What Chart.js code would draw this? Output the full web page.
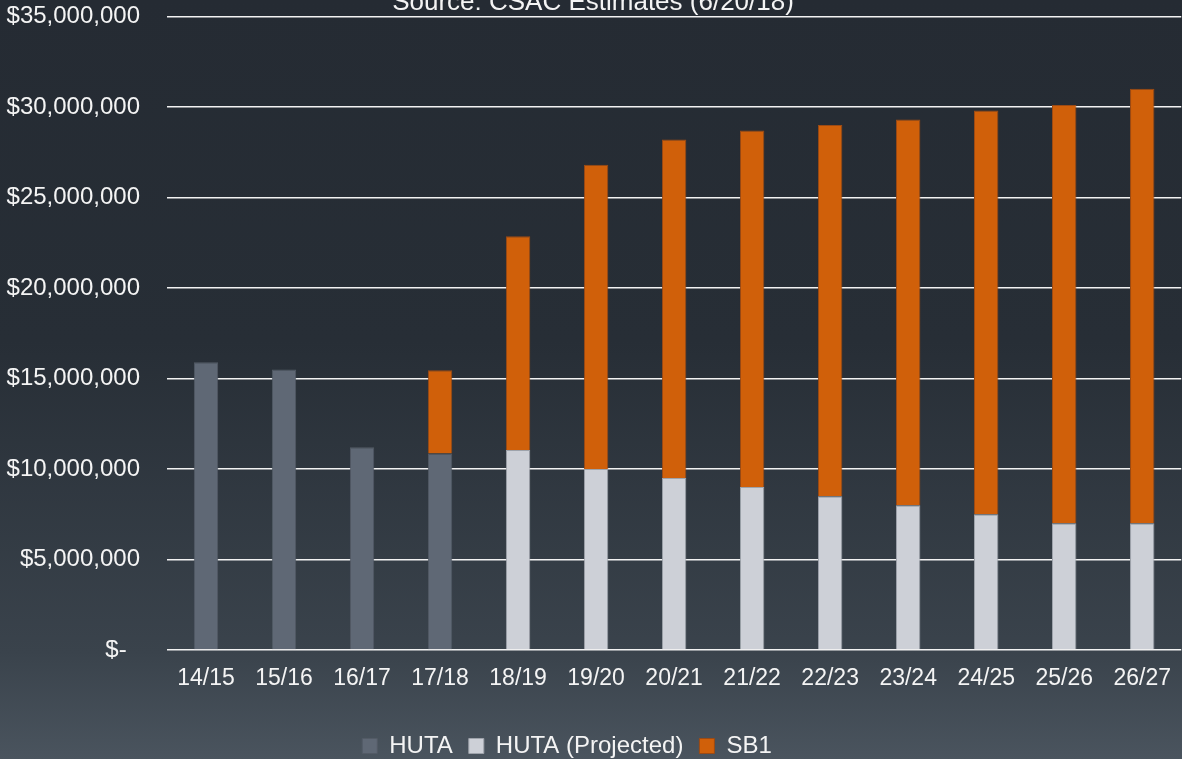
<!DOCTYPE html>
<html>
<head>
<meta charset="utf-8">
<script src="https://cdn.jsdelivr.net/npm/chart.js@4/dist/chart.umd.min.js"></script>
<style>
  html, body { margin: 0; padding: 0; width: 1182px; height: 759px; overflow: hidden; }
  body { background: linear-gradient(to bottom, #252b33 0%, #272e36 45%, #3a434c 86%, #4a545e 100%); position: relative; }
  #wrap { position: absolute; left: 0; top: -25px; width: 1186px; height: 793px; }
</style>
</head>
<body>
<div id="wrap"><canvas id="c"></canvas></div>
<script>
const categories = ['14/15','15/16','16/17','17/18','18/19','19/20','20/21','21/22','22/23','23/24','24/25','25/26','26/27'];
const hutaValues = [15900000, 15500000, 11200000, 10850000, null, null, null, null, null, null, null, null, null];
const hutaProjectedValues = [null, null, null, null, 11050000, 10000000, 9500000, 9000000, 8500000, 8000000, 7500000, 7000000, 7000000];
const sb1Values = [null, null, null, 4600000, 11800000, 16800000, 18700000, 19700000, 20500000, 21300000, 22300000, 23100000, 24000000];
const yTickValues = [0, 5000000, 10000000, 15000000, 20000000, 25000000, 30000000, 35000000];
const seriesNames = ['HUTA', 'HUTA (Projected)', 'SB1'];
const titleText = 'Source: CSAC Estimates (6/20/18)';

const FONT = "'Liberation Sans', Arial, sans-serif";
const TXT = '#f4f4f4';

function fmt(v) {
  if (v === 0) return '$-  ';
  return '$' + v.toLocaleString('en-US');
}

const legendShift = {
  id: 'legendShift',
  afterLayout(chart) {
    const lg = chart.legend;
    if (lg) { lg.left -= 26; lg.right -= 26; }
  }
};

new Chart(document.getElementById('c'), {
  type: 'bar',
  data: {
    labels: categories,
    datasets: [
      { label: seriesNames[0], data: hutaValues, backgroundColor: '#5f6875', borderColor: '#535b66', borderWidth: 1 },
      { label: seriesNames[1], data: hutaProjectedValues, backgroundColor: '#cdd0d7', borderColor: '#9ea3ab', borderWidth: 1 },
      { label: seriesNames[2], data: sb1Values, backgroundColor: '#d0600a', borderColor: '#9c4a14', borderWidth: 1 }
    ]
  },
  plugins: [legendShift],
  options: {
    responsive: true,
    maintainAspectRatio: false,
    animation: false,
    devicePixelRatio: 1,
    layout: { padding: { left: 0, right: 0, top: 0, bottom: 0 } },
    datasets: { bar: { categoryPercentage: 1.0, barPercentage: 0.313 } },
    plugins: {
      title: {
        display: true,
        text: titleText,
        color: TXT,
        font: { family: FONT, size: 26, weight: 'normal' },
        padding: { top: 0, bottom: -2 }
      },
      legend: {
        display: true,
        position: 'bottom',
        labels: {
          color: TXT,
          font: { family: FONT, size: 24 },
          boxWidth: 15,
          boxHeight: 15,
          padding: 16
        }
      },
      tooltip: { enabled: false }
    },
    scales: {
      x: {
        stacked: true,
        grid: { display: false, drawTicks: false },
        border: { display: false },
        ticks: { color: TXT, font: { family: FONT, size: 23 }, padding: 15, maxRotation: 0, autoSkip: false },
        afterFit: (s) => { s.height = 68; }
      },
      y: {
        stacked: true,
        min: 0,
        max: 35000000,
        afterBuildTicks: (s) => { s.ticks = yTickValues.map(v => ({ value: v })); },
        grid: { color: '#f2f2f2', lineWidth: 1.6, drawTicks: false },
        border: { display: false },
        ticks: { color: TXT, font: { family: FONT, size: 24 }, padding: 27, callback: (v) => fmt(v) },
        afterFit: (s) => { s.width = 167; }
      }
    }
  }
});
</script>
</body>
</html>
